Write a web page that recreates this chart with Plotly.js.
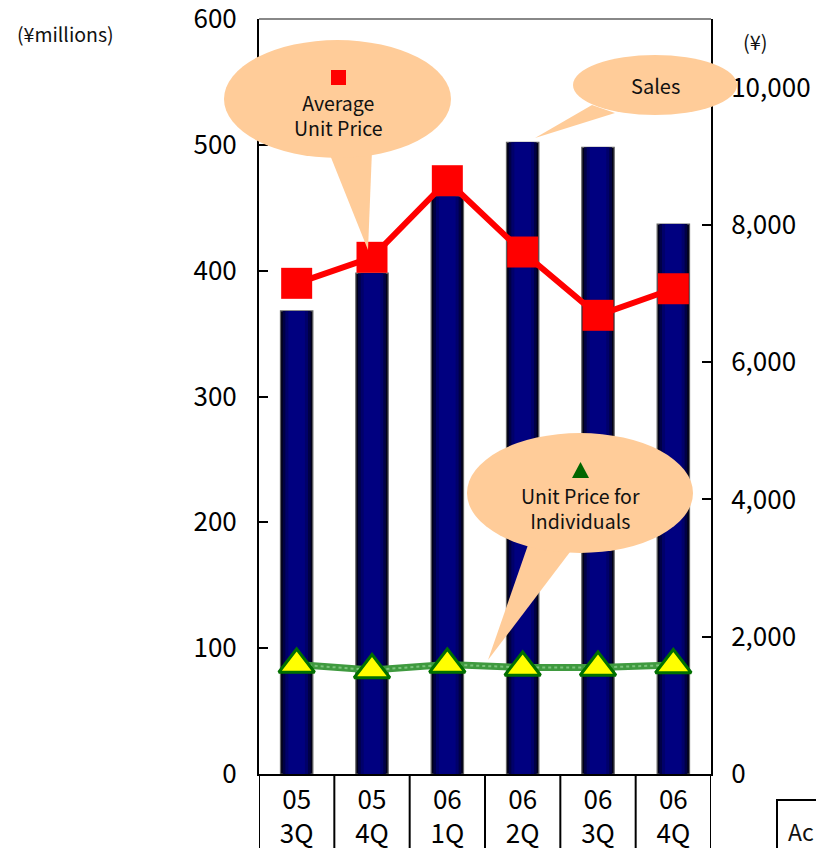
<!DOCTYPE html>
<html>
<head>
<meta charset="utf-8">
<script src="https://cdn.plot.ly/plotly-3.0.1.min.js"></script>
<style>html,body{margin:0;padding:0;background:#fff;}#chart{width:816px;height:848px;}</style>
</head>
<body>
<div id="chart"></div>
<script>
// ---- data ----
const categories = ['05 3Q', '05 4Q', '06 1Q', '06 2Q', '06 3Q', '06 4Q'];
const tickLabels = ['05<br>3Q', '05<br>4Q', '06<br>1Q', '06<br>2Q', '06<br>3Q', '06<br>4Q'];
const sales = [368, 398, 459, 502, 498, 437];               // ¥ millions (left axis)
const avgUnitPrice = [7149, 7528, 8644, 7605, 6683, 7070];  // ¥ (right axis)
const indivUnitPrice = [1595, 1515, 1595, 1552, 1552, 1588]; // ¥ (right axis)

// ---- geometry helpers (plot area in px) ----
const L = 259, R = 711, T = 19, B = 774;
const W = 816, H = 848;
const fx = x => (x - L) / (R - L);
const fy = y => (B - y) / (B - T);
const FONT = '"Noto Sans CJK JP", "Noto Sans", sans-serif';
const PEACH = '#FFCC99';

// gradient-looking bars: overlaid layers built from the same data
const barLayers = [
  {w: 0.43, c: '#000018', line: {color: '#666', width: 1.2}},
  {w: 0.37, c: '#000045'},
  {w: 0.30, c: '#00006a'},
  {w: 0.22, c: '#000080'}
];
const traces = barLayers.map(b => ({
  type: 'bar', x: categories, y: sales, width: b.w,
  marker: {color: b.c, line: b.line || {width: 0}},
  yaxis: 'y', hoverinfo: 'skip', showlegend: false
}));

traces.push({
  type: 'scatter', mode: 'lines', x: categories, y: indivUnitPrice, yaxis: 'y2',
  line: {color: '#3F9A3F', width: 7}, showlegend: false
});
traces.push({
  type: 'scatter', mode: 'lines+markers', x: categories, y: indivUnitPrice, yaxis: 'y2',
  line: {color: '#7CC47C', width: 2, dash: 'dot'},
  marker: {symbol: 'triangle-up', size: 31, color: '#FFFF00', line: {color: '#007000', width: 3}},
  showlegend: false
});
traces.push({
  type: 'scatter', mode: 'lines+markers', x: categories, y: avgUnitPrice, yaxis: 'y2',
  line: {color: '#FF0000', width: 6},
  marker: {symbol: 'square', size: 31, color: '#FF0000'},
  showlegend: false
});

function ellipse(x0, y0, x1, y1) {
  return {type: 'circle', xref: 'paper', yref: 'paper', layer: 'above',
    x0: fx(x0), x1: fx(x1), y0: fy(y1), y1: fy(y0), fillcolor: PEACH, line: {width: 0}};
}
function poly(pts, color) {
  const d = pts.map((p, i) => (i ? 'L' : 'M') + fx(p[0]) + ',' + fy(p[1])).join(' ') + ' Z';
  return {type: 'path', xref: 'paper', yref: 'paper', layer: 'above', path: d,
    fillcolor: color, line: {width: 0}};
}
function txt(s, x, y, size, anchor) {
  return {text: s, xref: 'paper', yref: 'paper', x: fx(x), y: fy(y), showarrow: false,
    xanchor: anchor || 'center', yanchor: 'middle', font: {family: FONT, size: size, color: '#111'}};
}

const shapes = [
  // top border
  {type: 'line', xref: 'paper', yref: 'paper', x0: 0, x1: 1, y0: 1, y1: 1, line: {color: '#888', width: 2}},
  // category table separators
  ...[-0.5, 0.5, 1.5, 2.5, 3.5, 4.5, 5.5].map(v => ({
    type: 'line', xref: 'x', yref: 'paper', x0: v, x1: v, y0: 0, y1: fy(H + 5),
    line: {color: '#000', width: 2}
  })),
  // callouts
  poly([[328, 150], [368, 250], [372, 150]], PEACH),
  ellipse(224, 40, 451, 158),
  poly([[592, 105], [535, 138], [615, 113]], PEACH),
  ellipse(573, 55, 737, 115),
  poly([[528, 545], [488, 660], [570, 552]], PEACH),
  ellipse(467, 433, 693, 553),
  // legend symbols inside callouts
  {type: 'rect', xref: 'paper', yref: 'paper', layer: 'above', x0: fx(331), x1: fx(346), y0: fy(85), y1: fy(70),
    fillcolor: '#FF0000', line: {width: 0}},
  poly([[572, 478], [580.5, 462], [589, 478]], '#006600'),
  // cropped neighbouring box
  {type: 'rect', xref: 'paper', yref: 'paper', x0: fx(777), x1: fx(840), y0: fy(870), y1: fy(800),
    fillcolor: 'rgba(0,0,0,0)', line: {color: '#000', width: 2}}
];

const annotations = [
  txt('(¥millions)', 15, 33, 19.5, 'left'),
  txt('(¥)', 755, 41, 20),
  txt('Average<br>Unit Price', 338, 114.5, 19.5),
  txt('Sales', 655, 86, 20),
  txt('Unit Price for<br>Individuals', 580, 507.5, 19.5),
  txt('Ac', 786, 831, 23, 'left')
];

const layout = {
  width: W, height: H,
  margin: {l: L, r: W - R, t: T, b: H - B, pad: 0},
  paper_bgcolor: '#fff', plot_bgcolor: '#fff',
  barmode: 'overlay',
  font: {family: FONT, color: '#000'},
  xaxis: {
    type: 'category', range: [-0.5, 5.5], tickmode: 'array', tickvals: categories, ticktext: tickLabels,
    showline: true, linecolor: '#000', linewidth: 2, ticks: '', showgrid: false, zeroline: false,
    tickfont: {family: FONT, size: 26, color: '#000'}, ticklabelstandoff: 2, fixedrange: true
  },
  yaxis: {
    range: [0, 600], dtick: 100, tick0: 0, ticks: 'inside', ticklen: 9, tickwidth: 2, tickcolor: '#000',
    showline: true, linecolor: '#000', linewidth: 2, showgrid: false, zeroline: false,
    tickfont: {family: FONT, size: 26, color: '#000'}, ticklabelstandoff: 15, ticklabeloverflow: 'allow'
  },
  yaxis2: {
    overlaying: 'y', side: 'right', range: [0, 11000], dtick: 2000, tick0: 0, tickformat: ',d',
    ticks: 'inside', ticklen: 9, tickwidth: 2, tickcolor: '#000',
    showline: true, linecolor: '#000', linewidth: 2, showgrid: false, zeroline: false,
    tickfont: {family: FONT, size: 26, color: '#000'}, ticklabelstandoff: 13, ticklabeloverflow: 'allow'
  },
  shapes: shapes,
  annotations: annotations,
  showlegend: false
};

Plotly.newPlot('chart', traces, layout, {displayModeBar: false, staticPlot: true});
</script>
</body>
</html>
